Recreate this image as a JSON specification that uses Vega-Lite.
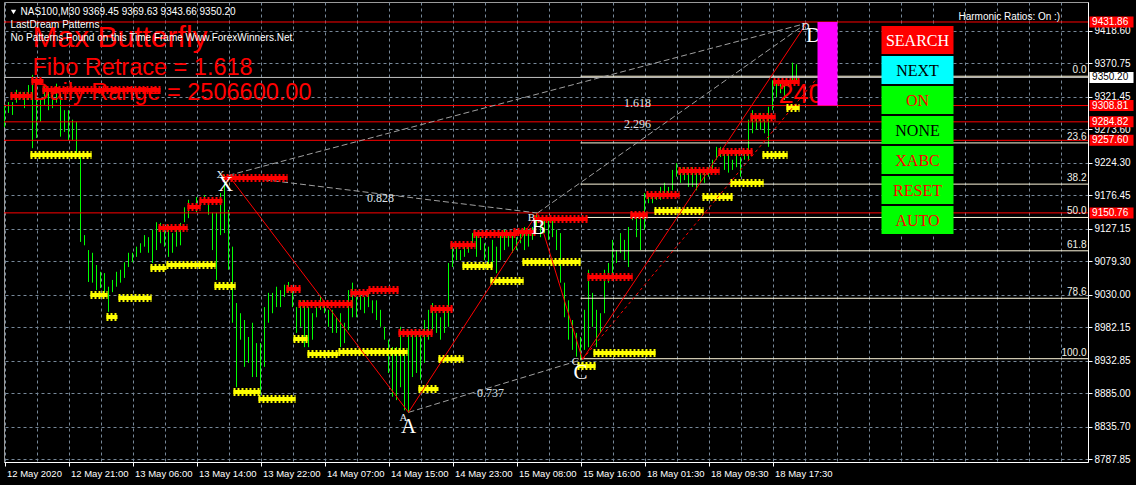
{
"$schema": "https://vega.github.io/schema/vega-lite/v6.json",
"autosize": {"type": "none"},
"width": 1084, "height": 460,
"padding": {"left": 4, "top": 2, "right": 48, "bottom": 23},
"background": "#000000",
"config": {
  "view": {"fill": "#000000", "stroke": "#9a9a9a"},
  "axis": {"gridColor": "#778899", "gridDash": [3,3], "gridOpacity": 1, "gridWidth": 1, "domainColor": "#FFFFFF", "tickColor": "#FFFFFF", "labelColor": "#FFFFFF", "labelFont": "Liberation Sans", "labelFontSize": 10}
},
"resolve": {"scale": {"color": "independent"}},
"datasets": {
  "bars": [
{"i":0,"h":9308,"l":9277},{"i":1,"h":9314,"l":9298},{"i":2,"h":9314,"l":9295},{"i":3,"h":9332,"l":9313},{"i":4,"h":9329,"l":9319},{"i":5,"h":9329,"l":9305},{"i":6,"h":9339,"l":9317},{"i":7,"h":9354,"l":9246},{"i":8,"h":9321,"l":9261},{"i":9,"h":9317,"l":9285},
{"i":10,"h":9339,"l":9310},{"i":11,"h":9335,"l":9302},{"i":12,"h":9332,"l":9305},{"i":13,"h":9341,"l":9313},{"i":14,"h":9327,"l":9263},{"i":15,"h":9302,"l":9270},{"i":16,"h":9302,"l":9258},{"i":17,"h":9288,"l":9258},{"i":18,"h":9285,"l":9236},{"i":19,"h":9236,"l":9108},
{"i":20,"h":9118,"l":9103},{"i":21,"h":9096,"l":9049},{"i":22,"h":9092,"l":9048},{"i":23,"h":9074,"l":9037},{"i":24,"h":9064,"l":9040},{"i":25,"h":9062,"l":9033},{"i":26,"h":9042,"l":9005},{"i":27,"h":9052,"l":9034},{"i":28,"h":9064,"l":9042},{"i":29,"h":9067,"l":9048},
{"i":30,"h":9078,"l":9055},{"i":31,"h":9092,"l":9071},{"i":32,"h":9092,"l":9078},{"i":33,"h":9101,"l":9086},{"i":34,"h":9106,"l":9092},{"i":35,"h":9118,"l":9101},{"i":36,"h":9115,"l":9092},{"i":37,"h":9126,"l":9077},{"i":38,"h":9137,"l":9096},{"i":39,"h":9136,"l":9106},
{"i":40,"h":9130,"l":9101},{"i":41,"h":9133,"l":9086},{"i":42,"h":9121,"l":9092},{"i":43,"h":9130,"l":9101},{"i":44,"h":9136,"l":9103},{"i":45,"h":9159,"l":9137},{"i":46,"h":9170,"l":9143},{"i":47,"h":9165,"l":9155},{"i":48,"h":9174,"l":9152},{"i":49,"h":9170,"l":9161},
{"i":50,"h":9177,"l":9165},{"i":51,"h":9165,"l":9148},{"i":52,"h":9151,"l":9096},{"i":53,"h":9151,"l":9052},{"i":54,"h":9180,"l":9118},{"i":55,"h":9207,"l":9121},{"i":56,"h":9155,"l":9067},{"i":57,"h":9101,"l":8989},{"i":58,"h":9018,"l":8894},{"i":59,"h":9003,"l":8964},
{"i":60,"h":8993,"l":8924},{"i":61,"h":8968,"l":8930},{"i":62,"h":8989,"l":8909},{"i":63,"h":8959,"l":8909},{"i":64,"h":8959,"l":8883},{"i":65,"h":9012,"l":8924},{"i":66,"h":9033,"l":8989},{"i":67,"h":9033,"l":9003},{"i":68,"h":9042,"l":9012},{"i":69,"h":9037,"l":9012},
{"i":70,"h":9045,"l":9027},{"i":71,"h":9049,"l":9033},{"i":72,"h":9037,"l":9012},{"i":73,"h":9012,"l":8974},{"i":74,"h":9022,"l":8983},{"i":75,"h":9022,"l":8953},{"i":76,"h":9012,"l":8953},{"i":77,"h":9003,"l":8964},{"i":78,"h":9012,"l":8997},{"i":79,"h":9027,"l":9008},
{"i":80,"h":9018,"l":9003},{"i":81,"h":9008,"l":8983},{"i":82,"h":9008,"l":8974},{"i":83,"h":8997,"l":8974},{"i":84,"h":9003,"l":8953},{"i":85,"h":8989,"l":8959},{"i":86,"h":9037,"l":8978},{"i":87,"h":9048,"l":8997},{"i":88,"h":9027,"l":8997},{"i":89,"h":9033,"l":9008},
{"i":90,"h":9027,"l":9003},{"i":91,"h":9033,"l":9012},{"i":92,"h":9022,"l":9003},{"i":93,"h":9022,"l":8993},{"i":94,"h":9008,"l":8983},{"i":95,"h":8983,"l":8964},{"i":96,"h":8964,"l":8915},{"i":97,"h":8953,"l":8880},{"i":98,"h":8953,"l":8875},{"i":99,"h":8983,"l":8894},
{"i":100,"h":8949,"l":8860},{"i":101,"h":8974,"l":8856},{"i":102,"h":8978,"l":8909},{"i":103,"h":8974,"l":8915},{"i":104,"h":8974,"l":8905},{"i":105,"h":8993,"l":8930},{"i":106,"h":9008,"l":8964},{"i":107,"h":9018,"l":8978},{"i":108,"h":9003,"l":8974},{"i":109,"h":8997,"l":8964},
{"i":110,"h":9008,"l":8974},{"i":111,"h":9077,"l":8983},{"i":112,"h":9101,"l":9071},{"i":113,"h":9101,"l":9081},{"i":114,"h":9096,"l":9081},{"i":115,"h":9101,"l":9086},{"i":116,"h":9106,"l":9092},{"i":117,"h":9121,"l":9101},{"i":118,"h":9121,"l":9086},{"i":119,"h":9115,"l":9096},
{"i":120,"h":9106,"l":9081},{"i":121,"h":9101,"l":9071},{"i":122,"h":9111,"l":9071},{"i":123,"h":9101,"l":9062},{"i":124,"h":9121,"l":9081},{"i":125,"h":9126,"l":9096},{"i":126,"h":9121,"l":9101},{"i":127,"h":9121,"l":9092},{"i":128,"h":9115,"l":9096},{"i":129,"h":9126,"l":9106},
{"i":130,"h":9130,"l":9096},{"i":131,"h":9126,"l":9101},{"i":132,"h":9130,"l":9111},{"i":133,"h":9151,"l":9130},{"i":134,"h":9140,"l":9115},{"i":135,"h":9140,"l":9121},{"i":136,"h":9140,"l":9111},{"i":137,"h":9140,"l":9115},{"i":138,"h":9126,"l":9096},{"i":139,"h":9121,"l":9048},
{"i":140,"h":9048,"l":8997},{"i":141,"h":9022,"l":8964},{"i":142,"h":8993,"l":8949},{"i":143,"h":8974,"l":8939},{"i":144,"h":8968,"l":8934},{"i":145,"h":9008,"l":8949},{"i":146,"h":9067,"l":8953},{"i":147,"h":9033,"l":8983},{"i":148,"h":9008,"l":8953},{"i":149,"h":9003,"l":8974},
{"i":150,"h":9067,"l":9003},{"i":151,"h":9077,"l":9048},{"i":152,"h":9111,"l":9062},{"i":153,"h":9096,"l":9077},{"i":154,"h":9121,"l":9092},{"i":155,"h":9111,"l":9081},{"i":156,"h":9130,"l":9071},{"i":157,"h":9151,"l":9140},{"i":158,"h":9151,"l":9115},{"i":159,"h":9151,"l":9096},
{"i":160,"h":9180,"l":9126},{"i":161,"h":9180,"l":9165},{"i":162,"h":9180,"l":9165},{"i":163,"h":9180,"l":9170},{"i":164,"h":9189,"l":9170},{"i":165,"h":9195,"l":9174},{"i":166,"h":9189,"l":9177},{"i":167,"h":9214,"l":9184},{"i":168,"h":9224,"l":9204},{"i":169,"h":9218,"l":9195},
{"i":170,"h":9218,"l":9199},{"i":171,"h":9218,"l":9189},{"i":172,"h":9218,"l":9189},{"i":173,"h":9210,"l":9184},{"i":174,"h":9214,"l":9195},{"i":175,"h":9210,"l":9195},{"i":176,"h":9218,"l":9204},{"i":177,"h":9229,"l":9210},{"i":178,"h":9248,"l":9229},{"i":179,"h":9248,"l":9233},
{"i":180,"h":9243,"l":9214},{"i":181,"h":9239,"l":9210},{"i":182,"h":9229,"l":9214},{"i":183,"h":9239,"l":9218},{"i":184,"h":9233,"l":9204},{"i":185,"h":9243,"l":9229},{"i":186,"h":9288,"l":9229},{"i":187,"h":9302,"l":9268},{"i":188,"h":9292,"l":9273},{"i":189,"h":9298,"l":9273},
{"i":190,"h":9288,"l":9268},{"i":191,"h":9307,"l":9248},{"i":192,"h":9346,"l":9302},{"i":193,"h":9342,"l":9321},{"i":194,"h":9342,"l":9327},{"i":195,"h":9342,"l":9317},{"i":196,"h":9346,"l":9336},{"i":197,"h":9372,"l":9342},{"i":198,"h":9369.63,"l":9343.66}
  ],
  "redsegs": [
{"s":1.5,"e":7,"p":9322.9},{"s":6.75,"e":9.75,"p":9345},{"s":9.5,"e":39,"p":9331.7},{"s":38.5,"e":45.75,"p":9128.5},{"s":45.75,"e":49,"p":9159.4},{"s":48.75,"e":54.5,"p":9168.3},{"s":54.5,"e":70.75,"p":9202.1},{"s":70.5,"e":74,"p":9038.7},{"s":73.5,"e":87,"p":9016.5},{"s":86.5,"e":91,"p":9032.8},{"s":91,"e":98.5,"p":9037.2},{"s":98.5,"e":107,"p":8973.8},{"s":106.5,"e":112,"p":9009.2},{"s":111.5,"e":117.75,"p":9103.4},{"s":117.25,"e":128.25,"p":9119.6},{"s":127.25,"e":132.75,"p":9122.6},{"s":132.25,"e":145.75,"p":9141.7},{"s":145.75,"e":157,"p":9056.3},{"s":156.5,"e":160.75,"p":9147.6},{"s":160.5,"e":168.75,"p":9177.1},{"s":168.5,"e":178.75,"p":9212.4},{"s":178.5,"e":187,"p":9240.4},{"s":186.5,"e":192.75,"p":9292},{"s":192.25,"e":198.75,"p":9343.5}
  ],
  "yellowsegs": [
{"s":6.5,"e":21.75,"p":9236},{"s":21.5,"e":25.75,"p":9029.8},{"s":25.5,"e":28.25,"p":8997.4},{"s":28.5,"e":36.75,"p":9025.4},{"s":36.5,"e":40.5,"p":9069.6},{"s":40.5,"e":52.75,"p":9074},{"s":52.5,"e":57.75,"p":9043.1},{"s":57.25,"e":64,"p":8887},{"s":63.5,"e":72.75,"p":8876.6},{"s":72.25,"e":75.75,"p":8965},{"s":75.75,"e":83.5,"p":8942.9},{"s":83.5,"e":100.75,"p":8945.8},{"s":103.5,"e":108.5,"p":8891.4},{"s":108.5,"e":114.75,"p":8935.5},{"s":114.5,"e":122,"p":9072.5},{"s":121.5,"e":129.75,"p":9050.4},{"s":129.5,"e":144,"p":9078.4},{"s":143.25,"e":147.75,"p":8925.2},{"s":147.25,"e":162.75,"p":8944.4},{"s":162.5,"e":174.75,"p":9153.5},{"s":174.5,"e":182,"p":9174.1},{"s":181.5,"e":189.75,"p":9194.7},{"s":189.5,"e":195.75,"p":9236},{"s":195.5,"e":198.75,"p":9305.2}
  ],
  "levels": [{"p":9431.86},{"p":9308.81},{"p":9284.82},{"p":9257.6},{"p":9150.76}],
  "bid": [{"p":9350.2}],
  "fib": [{"lvl":"0.0","p":9352},{"lvl":"23.6","p":9253.8},{"lvl":"38.2","p":9193.1},{"lvl":"50.0","p":9144},{"lvl":"61.8","p":9094.9},{"lvl":"78.6","p":9025},{"lvl":"100.0","p":8936}],
  "legs": [
{"leg":"XA","x1":56,"y1":9206,"x2":101,"y2":8857},
{"leg":"AB","x1":101,"y1":8857,"x2":133.25,"y2":9150.6},
{"leg":"BC","x1":133.25,"y1":9150.6,"x2":144.5,"y2":8935},
{"leg":"CD","x1":144.5,"y1":8935,"x2":200.5,"y2":9430}
  ],
  "legdash": [{"x1":144.5,"y1":8935,"x2":202.75,"y2":9346.4}],
  "ratiolines": [
{"r":"XB","x1":56,"y1":9206,"x2":133.25,"y2":9150.6},
{"r":"XD","x1":56,"y1":9206,"x2":200.5,"y2":9430},
{"r":"AC","x1":101,"y1":8857,"x2":144.5,"y2":8935},
{"r":"BD","x1":133.25,"y1":9150.6,"x2":200.5,"y2":9430}
  ],
  "ratios": [{"x":94,"y":9172.6,"t":"0.828"},{"x":121.5,"y":8885.5,"t":"0.737"},{"x":158.25,"y":9312.6,"t":"1.618"},{"x":158.25,"y":9281.6,"t":"2.296"}],
  "points": [{"x":55.25,"y":9191.8,"t":"X"},{"x":101,"y":8835.4,"t":"A"},{"x":133.5,"y":9128.5,"t":"B"},{"x":144,"y":8914.9,"t":"C"},{"x":202.25,"y":9411.2,"t":"D"}],
  "pointsSmall": [{"x":54,"y":9206.5,"t":"X"},{"x":99.75,"y":8848.7,"t":"A"},{"x":131.75,"y":9143.2,"t":"B"},{"x":142.75,"y":8931.1,"t":"C"},{"x":200.25,"y":9424.5,"t":"D"}],
  "title": [{"x":7,"y":9395,"t":"Max Butterfly"}],
  "info": [{"x":7,"y":9353.8,"t":"Fibo Retrace = 1.618"},{"x":7,"y":9317,"t":"Daily Range = 2506600.00"}],
  "tf": [{"x":193.5,"y":9312.6,"t":"240"}],
  "header": [{"x":4,"y":9446.6,"t":"NAS100,M30  9369.45 9369.63 9343.66 9350.20"},{"x":1.5,"y":9427.4,"t":"LastDream Patterns"},{"x":1.5,"y":9408.3,"t":"No Patterns Found on this Time Frame Www.ForexWinners.Net"},{"x":238.5,"y":9439.2,"t":"Harmonic Ratios: On :)"}],
  "marker": [{"x":2.25,"y":9446.6}],
  "zone": [{"s":203.25,"e":208.25,"top":9431.86,"bot":9308.81}],
  "buttons": [
{"b":"SEARCH","top":9425.96,"bot":9384.72,"mid":9405.34},
{"b":"NEXT","top":9381.78,"bot":9340.54,"mid":9361.16},
{"b":"ON","top":9337.6,"bot":9296.36,"mid":9316.98},
{"b":"NONE","top":9293.42,"bot":9252.18,"mid":9272.8},
{"b":"XABC","top":9249.24,"bot":9208.0,"mid":9228.62},
{"b":"RESET","top":9205.06,"bot":9163.82,"mid":9184.44},
{"b":"AUTO","top":9160.88,"bot":9119.64,"mid":9140.26}
  ]
},
"layer": [
  {
    "data": {"name": "bars"},
    "mark": {"type": "rule", "color": "#00FF00", "strokeWidth": 1},
    "encoding": {
      "x": {"field": "i", "type": "quantitative", "scale": {"domain": [-0.125, 270.875], "nice": false, "zero": false},
        "axis": {"title": null, "tickCount": 200, "values": [0,8,16,24,32,40,48,56,64,72,80,88,96,104,112,120,128,136,144,152,160,168,176,184,192,200,208,216,224,232,240,248,256,264],
          "grid": true, "tickSize": 4, "tickOpacity": {"condition": {"test": "datum.value % 16 === 0 && datum.value <= 192", "value": 1}, "value": 0},
          "labelExpr": "(datum.value % 16 === 0 && datum.value <= 192) ? ['12 May 2020','12 May 21:00','13 May 06:00','13 May 14:00','13 May 22:00','14 May 07:00','14 May 15:00','14 May 23:00','15 May 08:00','15 May 16:00','18 May 01:30','18 May 09:30','18 May 17:30'][datum.value/16] : ''",
          "labelAlign": "left", "labelOffset": 2, "labelPadding": 2, "labelFlush": false, "labelOverlap": false, "labelFontSize": 9.5}},
      "y": {"field": "l", "type": "quantitative", "scale": {"domain": [8783.9, 9461.3], "nice": false, "zero": false},
        "axis": {"title": null, "orient": "right", "tickCount": 200, "values": [9418.6,9370.75,9321.45,9273.6,9224.3,9176.45,9127.15,9079.3,9030,8982.15,8932.85,8885,8835.7,8787.85],
          "format": ".2f", "grid": true, "tickSize": 4, "labelPadding": 2, "labelFlush": false, "labelOverlap": false, "labelBaseline": "middle"}},
      "y2": {"field": "h"}
    }
  },
  {
    "data": {"name": "levels"},
    "mark": {"type": "rule", "color": "#FF0000", "strokeWidth": 1},
    "encoding": {"y": {"field": "p", "type": "quantitative", "axis": {"title": null}}}
  },
  {
    "data": {"name": "bid"},
    "mark": {"type": "rule", "color": "#C0C0C0", "strokeWidth": 1},
    "encoding": {"y": {"field": "p", "type": "quantitative", "axis": {"title": null}}}
  },
  {
    "data": {"name": "fib"},
    "mark": {"type": "rule", "color": "#FFF8DC", "strokeWidth": 1},
    "encoding": {"x": {"datum": 144, "type": "quantitative"}, "x2": {"datum": 271}, "y": {"field": "p", "type": "quantitative", "axis": {"title": null}}}
  },
  {
    "data": {"name": "fib"},
    "mark": {"type": "text", "color": "#F0F0E6", "font": "Liberation Sans", "fontSize": 10, "align": "right", "baseline": "bottom", "dy": -1},
    "encoding": {"x": {"datum": 270.5, "type": "quantitative"}, "y": {"field": "p", "type": "quantitative", "axis": {"title": null}}, "text": {"field": "lvl"}}
  },
  {
    "data": {"name": "ratiolines"},
    "mark": {"type": "rule", "color": "#A0A0A0", "strokeWidth": 1, "strokeDash": [6,3]},
    "encoding": {"x": {"field": "x1", "type": "quantitative", "axis": {"title": null}}, "y": {"field": "y1", "type": "quantitative", "axis": {"title": null}}, "x2": {"field": "x2"}, "y2": {"field": "y2"}}
  },
  {
    "data": {"name": "redsegs"},
    "mark": {"type": "rule", "color": "#FF0000", "strokeWidth": 4},
    "encoding": {"x": {"field": "s", "type": "quantitative", "axis": {"title": null}}, "x2": {"field": "e"}, "y": {"field": "p", "type": "quantitative", "axis": {"title": null}}}
  },
  {
    "data": {"name": "redsegs"},
    "mark": {"type": "rule", "color": "#FF0000", "strokeWidth": 8, "strokeDash": [2,2]},
    "encoding": {"x": {"field": "s", "type": "quantitative", "axis": {"title": null}}, "x2": {"field": "e"}, "y": {"field": "p", "type": "quantitative", "axis": {"title": null}}}
  },
  {
    "data": {"name": "yellowsegs"},
    "mark": {"type": "rule", "color": "#FFFF00", "strokeWidth": 4},
    "encoding": {"x": {"field": "s", "type": "quantitative", "axis": {"title": null}}, "x2": {"field": "e"}, "y": {"field": "p", "type": "quantitative", "axis": {"title": null}}}
  },
  {
    "data": {"name": "yellowsegs"},
    "mark": {"type": "rule", "color": "#FFFF00", "strokeWidth": 8, "strokeDash": [2,2]},
    "encoding": {"x": {"field": "s", "type": "quantitative", "axis": {"title": null}}, "x2": {"field": "e"}, "y": {"field": "p", "type": "quantitative", "axis": {"title": null}}}
  },
  {
    "data": {"name": "legs"},
    "mark": {"type": "rule", "color": "#FF0000", "strokeWidth": 1},
    "encoding": {"x": {"field": "x1", "type": "quantitative", "axis": {"title": null}}, "y": {"field": "y1", "type": "quantitative", "axis": {"title": null}}, "x2": {"field": "x2"}, "y2": {"field": "y2"}}
  },
  {
    "data": {"name": "legdash"},
    "mark": {"type": "rule", "color": "#FF0000", "strokeWidth": 1, "strokeDash": [3,3]},
    "encoding": {"x": {"field": "x1", "type": "quantitative", "axis": {"title": null}}, "y": {"field": "y1", "type": "quantitative", "axis": {"title": null}}, "x2": {"field": "x2"}, "y2": {"field": "y2"}}
  },
  {
    "data": {"name": "ratios"},
    "mark": {"type": "text", "color": "#DDE3EA", "font": "Liberation Serif", "fontSize": 12, "align": "center", "baseline": "middle"},
    "encoding": {"x": {"field": "x", "type": "quantitative", "axis": {"title": null}}, "y": {"field": "y", "type": "quantitative", "axis": {"title": null}}, "text": {"field": "t"}}
  },
  {
    "data": {"name": "pointsSmall"},
    "mark": {"type": "text", "color": "#E8EEF5", "font": "Liberation Serif", "fontSize": 11, "align": "center", "baseline": "middle"},
    "encoding": {"x": {"field": "x", "type": "quantitative", "axis": {"title": null}}, "y": {"field": "y", "type": "quantitative", "axis": {"title": null}}, "text": {"field": "t"}}
  },
  {
    "data": {"name": "points"},
    "mark": {"type": "text", "color": "#FFFFFF", "font": "Liberation Serif", "fontSize": 21, "align": "center", "baseline": "middle"},
    "encoding": {"x": {"field": "x", "type": "quantitative", "axis": {"title": null}}, "y": {"field": "y", "type": "quantitative", "axis": {"title": null}}, "text": {"field": "t"}}
  },
  {
    "data": {"name": "title"},
    "mark": {"type": "text", "color": "#FF0000", "font": "Liberation Sans", "fontSize": 30, "align": "left", "baseline": "alphabetic"},
    "encoding": {"x": {"field": "x", "type": "quantitative", "axis": {"title": null}}, "y": {"field": "y", "type": "quantitative", "axis": {"title": null}}, "text": {"field": "t"}}
  },
  {
    "data": {"name": "info"},
    "mark": {"type": "text", "color": "#FF0000", "font": "Liberation Sans", "fontSize": 23.5, "align": "left", "baseline": "alphabetic"},
    "encoding": {"x": {"field": "x", "type": "quantitative", "axis": {"title": null}}, "y": {"field": "y", "type": "quantitative", "axis": {"title": null}}, "text": {"field": "t"}}
  },
  {
    "data": {"name": "tf"},
    "mark": {"type": "text", "color": "#FF0000", "font": "Liberation Sans", "fontSize": 27, "align": "left", "baseline": "alphabetic"},
    "encoding": {"x": {"field": "x", "type": "quantitative", "axis": {"title": null}}, "y": {"field": "y", "type": "quantitative", "axis": {"title": null}}, "text": {"field": "t"}}
  },
  {
    "data": {"name": "zone"},
    "mark": {"type": "rect", "color": "#FF00FF", "opacity": 1},
    "encoding": {"x": {"field": "s", "type": "quantitative", "axis": {"title": null}}, "x2": {"field": "e"}, "y": {"field": "top", "type": "quantitative", "axis": {"title": null}}, "y2": {"field": "bot"}}
  },
  {
    "data": {"name": "header"},
    "mark": {"type": "text", "color": "#FFFFFF", "font": "Liberation Sans", "fontSize": 10, "align": "left", "baseline": "middle"},
    "encoding": {"x": {"field": "x", "type": "quantitative", "axis": {"title": null}}, "y": {"field": "y", "type": "quantitative", "axis": {"title": null}}, "text": {"field": "t"}}
  },
  {
    "data": {"name": "marker"},
    "mark": {"type": "point", "shape": "triangle-down", "filled": true, "color": "#FFFFFF", "size": 28, "opacity": 1},
    "encoding": {"x": {"field": "x", "type": "quantitative", "axis": {"title": null}}, "y": {"field": "y", "type": "quantitative", "axis": {"title": null}}}
  },
  {
    "data": {"name": "buttons"},
    "mark": {"type": "rect", "opacity": 1},
    "encoding": {"x": {"datum": 219.25, "type": "quantitative"}, "x2": {"datum": 237.25},
      "y": {"field": "top", "type": "quantitative", "axis": {"title": null}}, "y2": {"field": "bot"},
      "color": {"field": "b", "type": "nominal", "legend": null, "scale": {"domain": ["SEARCH","NEXT","ON","NONE","XABC","RESET","AUTO"], "range": ["#FF0000","#00FFFF","#00FF00","#00FF00","#00FF00","#00FF00","#00FF00"]}}}
  },
  {
    "data": {"name": "buttons"},
    "mark": {"type": "text", "font": "Liberation Serif", "fontSize": 16, "align": "center", "baseline": "middle", "dy": 1},
    "encoding": {"x": {"datum": 228.25, "type": "quantitative"},
      "y": {"field": "mid", "type": "quantitative", "axis": {"title": null}}, "text": {"field": "b"},
      "color": {"field": "b", "type": "nominal", "legend": null, "scale": {"domain": ["SEARCH","NEXT","ON","NONE","XABC","RESET","AUTO"], "range": ["#FFFFFF","#000000","#FF0000","#000000","#FF0000","#FF0000","#FF0000"]}}}
  },
  {
    "data": {"name": "levels"},
    "mark": {"type": "rule", "color": "#FF0000", "strokeWidth": 11, "clip": false},
    "encoding": {"x": {"datum": 271.25, "type": "quantitative"}, "x2": {"datum": 282.25}, "y": {"field": "p", "type": "quantitative", "axis": {"title": null}}}
  },
  {
    "data": {"name": "levels"},
    "mark": {"type": "text", "color": "#FFFFFF", "font": "Liberation Sans", "fontSize": 10, "align": "left", "baseline": "middle", "clip": false},
    "encoding": {"x": {"datum": 271.9, "type": "quantitative"}, "y": {"field": "p", "type": "quantitative", "axis": {"title": null}}, "text": {"field": "p", "type": "quantitative", "format": ".2f"}}
  },
  {
    "data": {"name": "bid"},
    "mark": {"type": "rule", "color": "#FFFFFF", "strokeWidth": 11, "clip": false},
    "encoding": {"x": {"datum": 271.25, "type": "quantitative"}, "x2": {"datum": 282.25}, "y": {"field": "p", "type": "quantitative", "axis": {"title": null}}}
  },
  {
    "data": {"name": "bid"},
    "mark": {"type": "text", "color": "#000000", "font": "Liberation Sans", "fontSize": 10, "align": "left", "baseline": "middle", "clip": false},
    "encoding": {"x": {"datum": 271.9, "type": "quantitative"}, "y": {"field": "p", "type": "quantitative", "axis": {"title": null}}, "text": {"field": "p", "type": "quantitative", "format": ".2f"}}
  }
]
}
